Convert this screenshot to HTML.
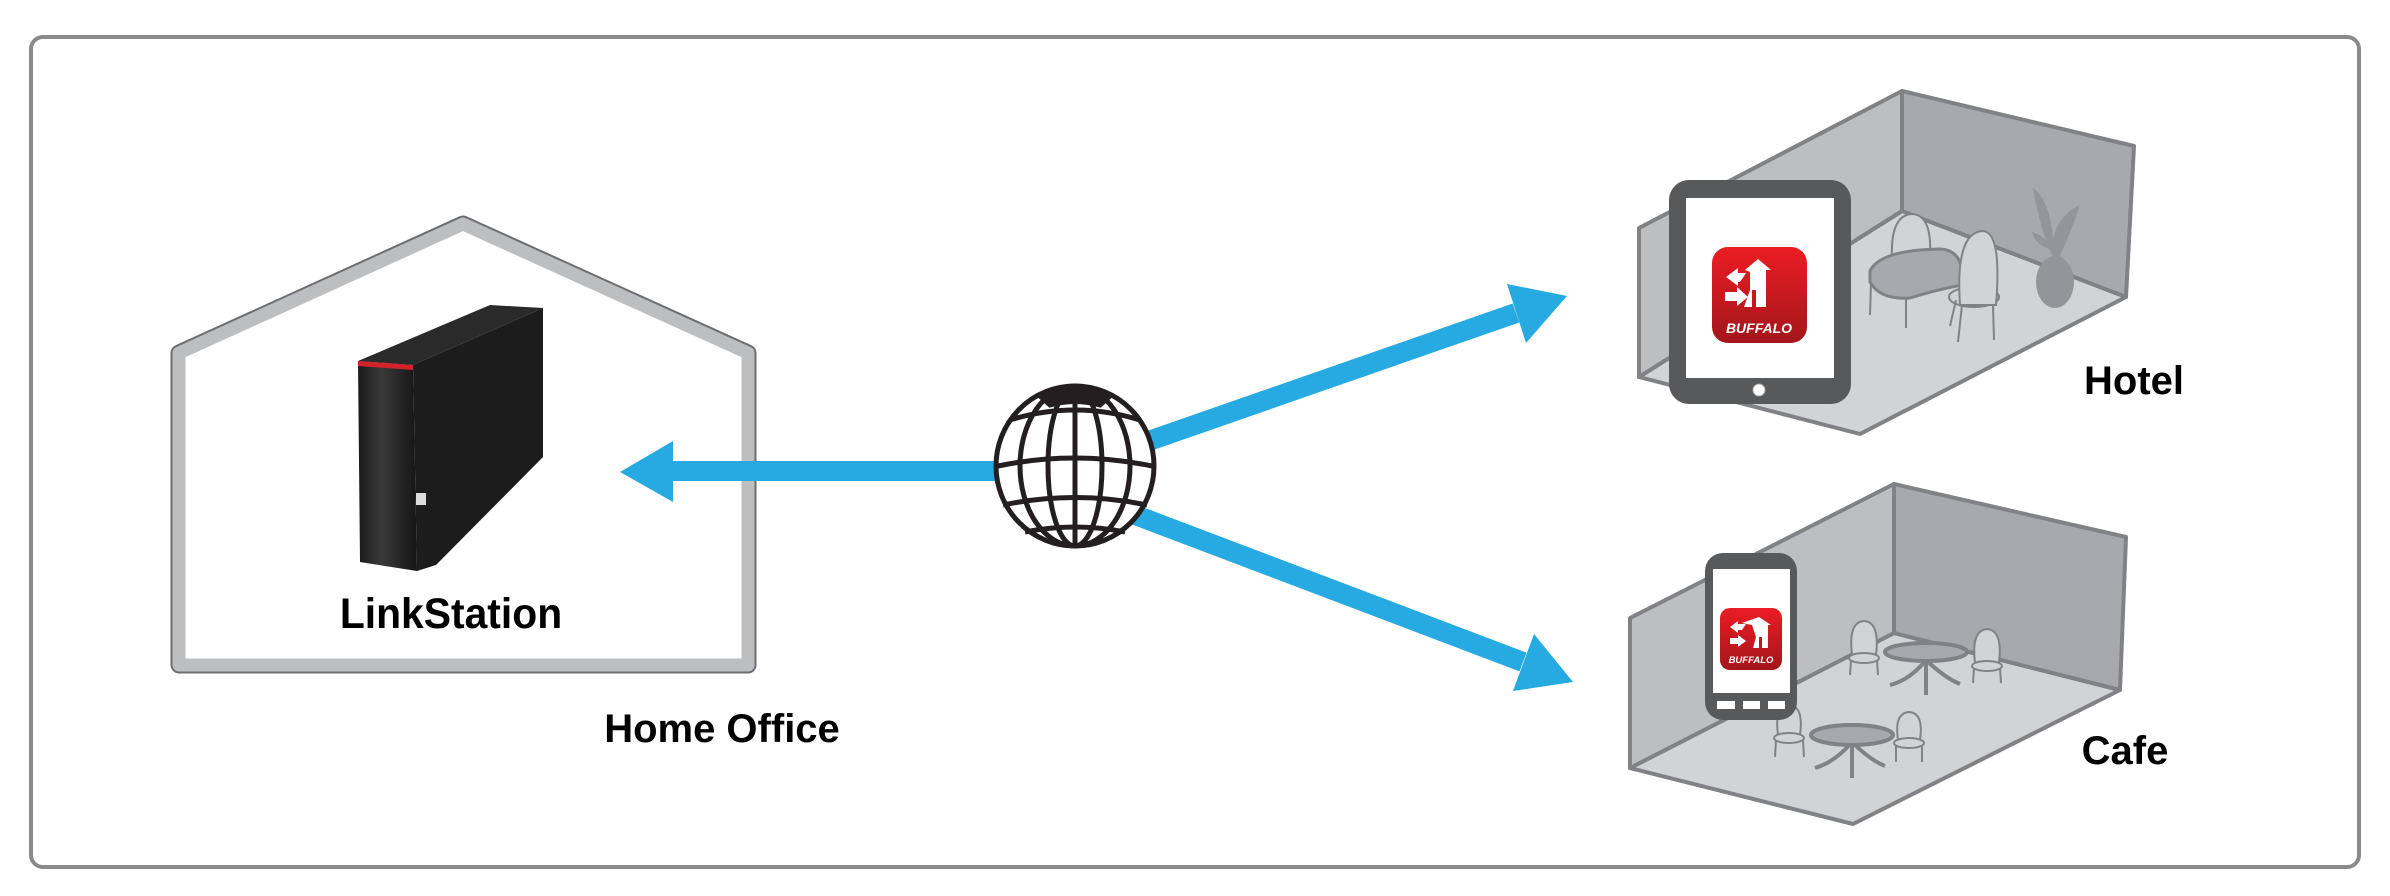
<!DOCTYPE html>
<html><head><meta charset="utf-8"><style>
html,body{margin:0;padding:0;background:#fff;width:2390px;height:896px;overflow:hidden}
svg{display:block}
text{font-family:"Liberation Sans",sans-serif;font-weight:bold}
</style></head><body>
<svg width="2390" height="896" viewBox="0 0 2390 896" xmlns="http://www.w3.org/2000/svg">
<defs>
<linearGradient id="red" x1="0" y1="0" x2="0" y2="1"><stop offset="0" stop-color="#ec1c24"/><stop offset="1" stop-color="#a3161b"/></linearGradient>
<linearGradient id="front" x1="0" y1="0" x2="1" y2="0"><stop offset="0" stop-color="#1a1a1a"/><stop offset="0.4" stop-color="#3a3a3a"/><stop offset="1" stop-color="#151515"/></linearGradient>
</defs>
<rect x="31" y="37" width="2328" height="830" rx="12" fill="#fff" stroke="#8a8a8c" stroke-width="4"/>

<!-- house -->
<polygon points="179,353 463,224 748,353 748,665 179,665" fill="#fff" stroke="#6d6e71" stroke-width="17" stroke-linejoin="round"/>
<polygon points="179,353 463,224 748,353 748,665 179,665" fill="#fff" stroke="#bcbec0" stroke-width="13" stroke-linejoin="round"/>

<!-- LinkStation -->
<polygon points="413,365 543,308 543,457 436,565 417,571" fill="#1c1c1c"/>
<polygon points="358,361 490,305 543,308 413,365" fill="#2a2a2a"/>
<polygon points="358,361 413,365 417,571 360,562" fill="url(#front)"/>
<polygon points="358,361 413,365 413,370 358,366" fill="#d2232a"/>
<rect x="416" y="493" width="10" height="12" fill="#ddd"/>
<text x="451" y="628" font-size="43" text-anchor="middle" transform="translate(451 0) scale(0.95 1) translate(-451 0)">LinkStation</text>
<text x="722" y="742" font-size="40" text-anchor="middle">Home Office</text>

<!-- arrows -->
<g fill="#27aae1" stroke="none">
<rect x="668" y="461" width="340" height="20"/>
<polygon points="620,472 673,441 673,502"/>
<line x1="1140" y1="444" x2="1516" y2="313" stroke="#27aae1" stroke-width="20"/>
<polygon points="1567,296 1507,284 1526,343"/>
<line x1="1130" y1="513" x2="1523" y2="662" stroke="#27aae1" stroke-width="20"/>
<polygon points="1573,682 1534,634 1513,691"/>
</g>

<!-- globe -->
<g fill="none" stroke="#231f20" stroke-width="5">
<ellipse cx="1075" cy="466" rx="79" ry="80" fill="#fff"/>
<path d="M1040,396 Q1075,382 1110,396 L1100,405 Q1075,398 1050,405 Z" fill="#231f20"/>
<line x1="1075" y1="386" x2="1075" y2="546"/>
<ellipse cx="1075" cy="466" rx="27" ry="80"/>
<ellipse cx="1075" cy="466" rx="55" ry="80"/>
<path d="M1010,420 Q1075,400 1140,420"/>
<path d="M998,466 Q1075,450 1152,466"/>
<path d="M1003,505 Q1075,490 1147,505"/>
<path d="M1025,532 Q1075,522 1125,532"/>
</g>

<!-- hotel room -->
<g stroke="#808285" stroke-width="4" stroke-linejoin="round">
<polygon points="1639,377 1902,211 2126,297 1860,434" fill="#d1d3d4"/>
<polygon points="1902,91 2134,146 2126,297 1902,211" fill="#a7a9ac"/>
<polygon points="1639,228 1902,91 1902,211 1639,377" fill="#bcbec0"/>
</g>
<!-- hotel furniture -->
<g stroke="#808285" stroke-width="2" fill="#d1d3d4">
<path d="M1892,259 Q1890,215 1912,214 Q1932,215 1930,255 Z"/>
<path d="M1870,271 Q1880,250 1940,249 Q1965,250 1962,285 Q1935,290 1910,298 Q1880,300 1870,282 Z" fill="#a7a9ac" stroke-width="3"/>
<line x1="1871" y1="282" x2="1870" y2="315"/><line x1="1906" y1="298" x2="1906" y2="328"/>
<ellipse cx="1974" cy="297" rx="25" ry="10"/>
<path d="M1960,305 Q1955,232 1983,231 Q2002,232 1996,305 Z"/>
<line x1="1956" y1="300" x2="1950" y2="326"/><line x1="1962" y1="305" x2="1958" y2="342"/><line x1="1993" y1="305" x2="1994" y2="340"/>
</g>
<g fill="#939598">
<ellipse cx="2055" cy="282" rx="19" ry="26"/>
<path d="M2055,262 Q2040,230 2033,188 Q2050,200 2053,240 Q2058,215 2080,205 Q2070,235 2057,262 Z"/>
<path d="M2052,250 Q2035,245 2032,232 Q2045,235 2052,250 Z"/>
</g>
<!-- tablet -->
<rect x="1669" y="180" width="182" height="224" rx="20" fill="#58595b"/>
<rect x="1686" y="198" width="148" height="180" fill="#fff"/>
<circle cx="1759" cy="390" r="6" fill="#fff" stroke="#aaa"/>
<rect x="1712" y="247" width="95" height="96" rx="16" fill="url(#red)"/>
<g fill="#fff">
<polygon points="1745,270 1758,259 1771,270 1766,270 1766,307 1756,307 1756,290 1752,290 1752,307 1744,307 1750,290 1750,272"/>
<polygon points="1726,277 1738,268 1738,273 1746,273 1740,282 1738,282 1738,286"/>
<polygon points="1725,292 1737,292 1737,287 1748,297 1737,306 1737,301 1725,301"/>
</g>
<text x="1759" y="333" font-size="14" fill="#fff" font-style="italic" text-anchor="middle">BUFFALO</text>
<text x="2134" y="394" font-size="40" text-anchor="middle">Hotel</text>

<!-- cafe room -->
<g stroke="#808285" stroke-width="4" stroke-linejoin="round">
<polygon points="1630,768 1894,633 2120,690 1853,824" fill="#d1d3d4"/>
<polygon points="1894,484 2126,537 2120,690 1894,633" fill="#a7a9ac"/>
<polygon points="1630,618 1894,484 1894,633 1630,768" fill="#bcbec0"/>
</g>
<g stroke="#808285" stroke-width="2" fill="#d1d3d4">
<path d="M1852,655 Q1848,622 1864,621 Q1880,622 1876,655 Z"/><ellipse cx="1864" cy="658" rx="15" ry="5"/>
<line x1="1851" y1="660" x2="1850" y2="675"/><line x1="1877" y1="660" x2="1878" y2="675"/>
<path d="M1975,663 Q1971,630 1987,629 Q2003,630 1999,663 Z"/><ellipse cx="1987" cy="666" rx="15" ry="5"/>
<line x1="1974" y1="668" x2="1973" y2="683"/><line x1="2000" y1="668" x2="2001" y2="683"/>
<path d="M1778,735 Q1774,706 1789,705 Q1804,706 1800,735 Z"/><ellipse cx="1789" cy="738" rx="15" ry="5"/>
<line x1="1776" y1="740" x2="1775" y2="757"/><line x1="1803" y1="740" x2="1804" y2="757"/>
<path d="M1898,740 Q1894,713 1909,712 Q1924,713 1920,740 Z"/><ellipse cx="1909" cy="743" rx="15" ry="5"/>
<line x1="1896" y1="745" x2="1896" y2="762"/><line x1="1922" y1="745" x2="1922" y2="762"/>
</g>
<g stroke="#808285" stroke-width="4" fill="#a7a9ac">
<line x1="1926" y1="655" x2="1926" y2="695"/><path d="M1926,660 Q1910,680 1890,685 M1926,660 Q1945,678 1960,684" fill="none"/>
<ellipse cx="1926" cy="652" rx="41" ry="9"/>
<line x1="1852" y1="738" x2="1852" y2="778"/><path d="M1852,742 Q1835,762 1815,768 M1852,742 Q1870,760 1885,766" fill="none"/>
<ellipse cx="1852" cy="735" rx="41" ry="10"/>
</g>
<!-- phone -->
<rect x="1705" y="553" width="92" height="167" rx="18" fill="#58595b"/>
<rect x="1713" y="569" width="77" height="124" fill="#fff"/>
<rect x="1717" y="701" width="18" height="8" fill="#fff"/><rect x="1743" y="701" width="17" height="8" fill="#fff"/><rect x="1768" y="701" width="17" height="8" fill="#fff"/>
<rect x="1720" y="608" width="62" height="62" rx="10" fill="url(#red)"/>
<g fill="#fff">
<polygon points="1742,623 1759,617 1771,625 1768,625 1768,648 1762,648 1762,637 1759,637 1759,648 1753,648 1756,637 1752,625"/>
<polygon points="1730,627 1738,621 1738,624 1746,624 1742,630 1738,630 1738,633"/>
<polygon points="1730,638 1738,638 1738,635 1746,641 1738,647 1738,644 1730,644"/>
</g>
<text x="1751" y="663" font-size="9.5" fill="#fff" font-style="italic" text-anchor="middle">BUFFALO</text>
<text x="2125" y="764" font-size="40" text-anchor="middle">Cafe</text>
</svg>
</body></html>
